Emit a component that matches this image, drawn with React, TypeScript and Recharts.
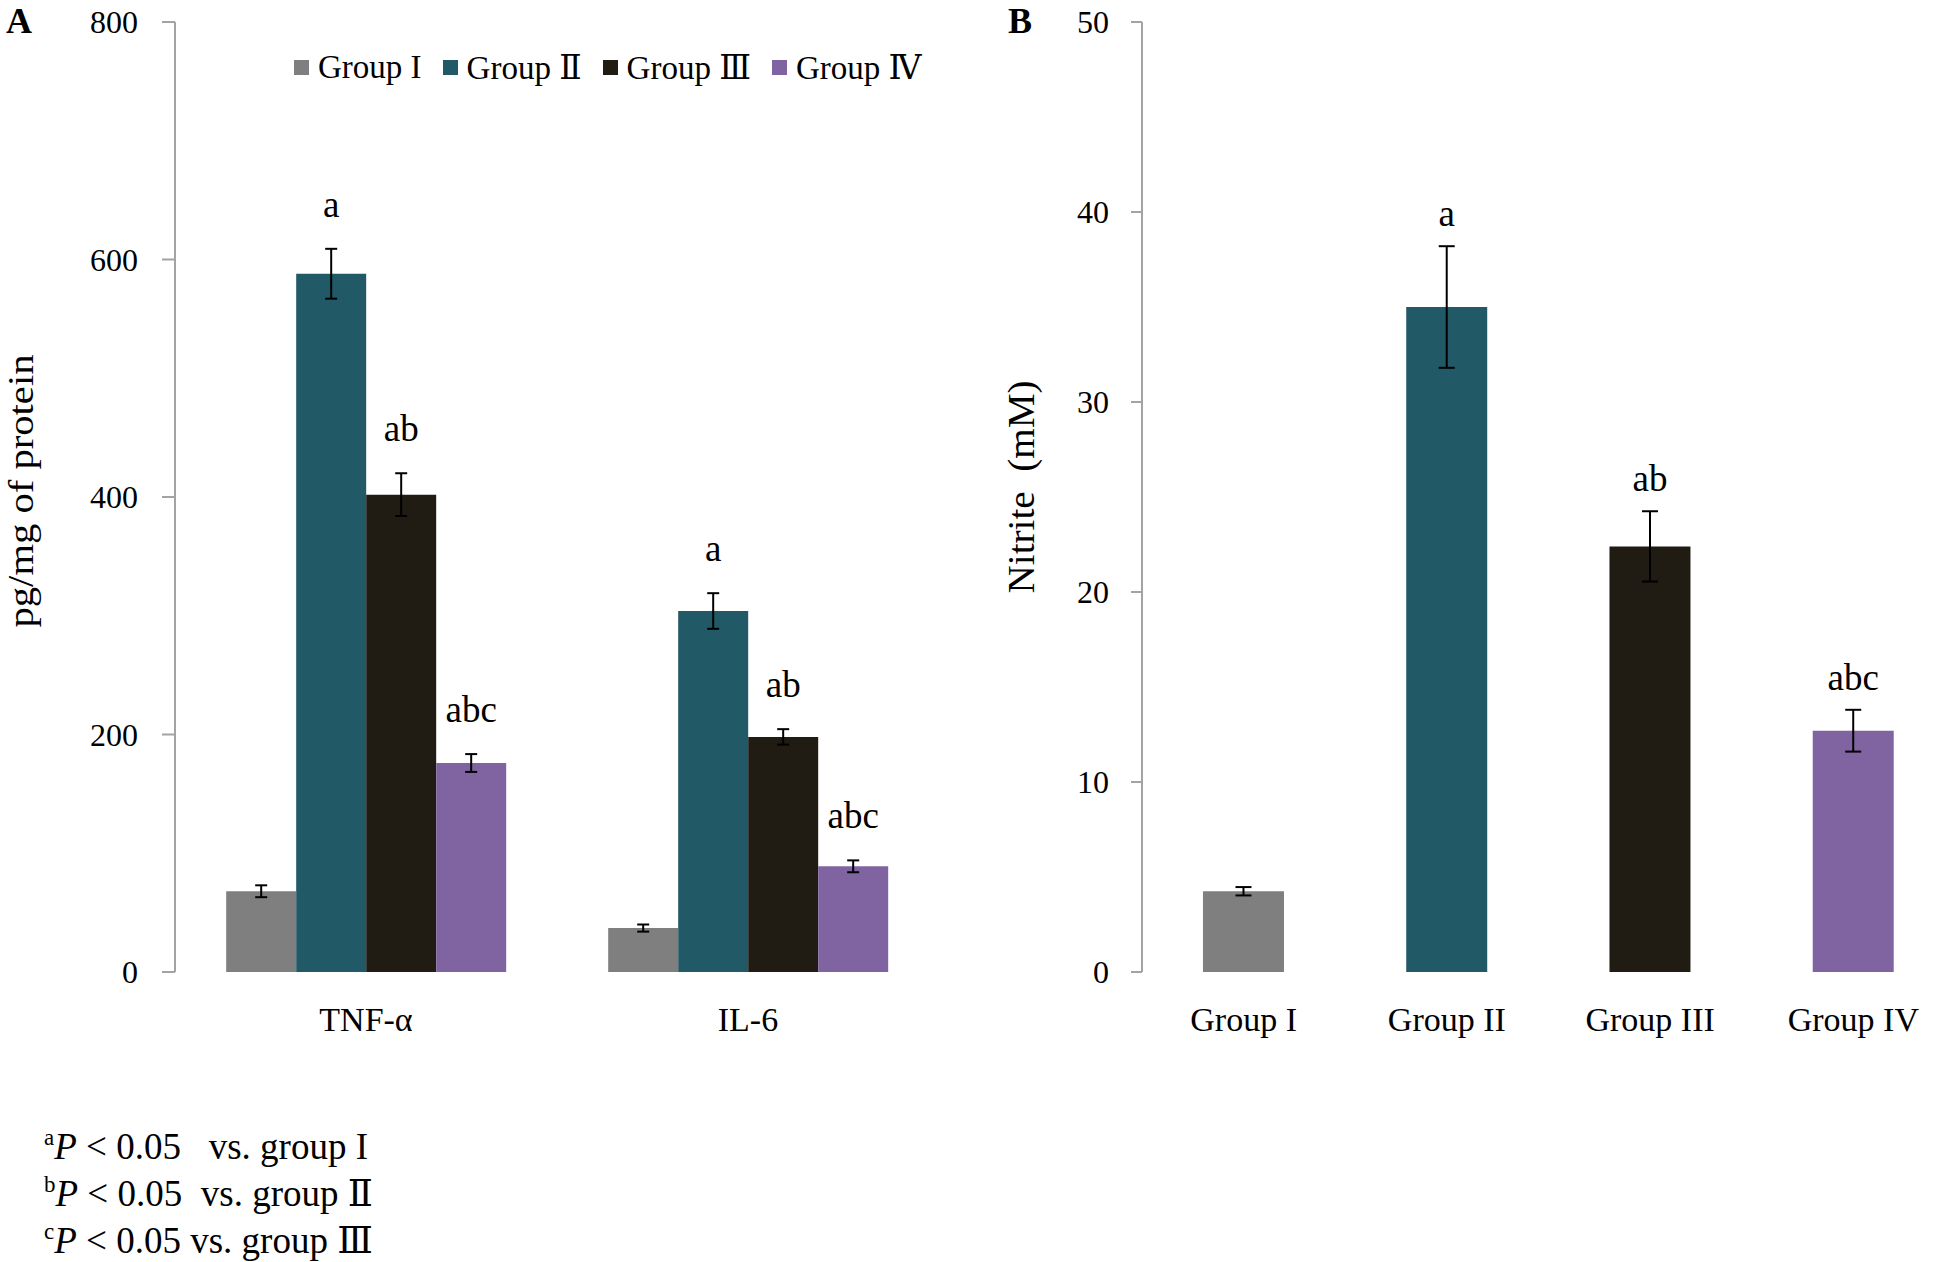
import React from 'react';
import { BarChart, Bar, XAxis, YAxis, ErrorBar, LabelList, Legend, Cell } from 'recharts';

const SERIF = '"Liberation Serif", "DejaVu Serif", serif';
const GRAY = '#a3a3a3';

// Panel A data
const cytokines = ['TNF-α', 'IL-6'];
const groupNames = ['Group I', 'Group Ⅱ', 'Group Ⅲ', 'Group Ⅳ'];
const groupColors = ['#7f7f7f', '#215967', '#201c14', '#8064a2'];
const group1 = [68, 37];
const group2 = [588, 304];
const group3 = [402, 198];
const group4 = [176, 89];
const err1 = [5, 3];
const err2 = [21, 15];
const err3 = [18, 6.5];
const err4 = [7.5, 5];
const sig1 = ['', ''];
const sig2 = ['a', 'a'];
const sig3 = ['ab', 'ab'];
const sig4 = ['abc', 'abc'];
const yTicksA = [0, 200, 400, 600, 800];

// Panel B data
const groupsB = ['Group I', 'Group II', 'Group III', 'Group IV'];
const nitrite = [4.25, 35.0, 22.4, 12.7];
const nitriteErr = [0.22, 3.2, 1.85, 1.1];
const nitriteSig = ['', 'a', 'ab', 'abc'];
const yTicksB = [0, 10, 20, 30, 40, 50];

const footnoteLetters = ['a', 'b', 'c'];
const footnoteTexts = [' < 0.05   vs. group I', ' < 0.05  vs. group Ⅱ', ' < 0.05 vs. group Ⅲ'];

const dataA = cytokines.map((c, i) => ({
  name: c,
  g1: group1[i], e1: err1[i],
  g2: group2[i], e2: err2[i],
  g3: group3[i], e3: err3[i],
  g4: group4[i], e4: err4[i],
}));

const dataB = groupsB.map((g, i) => ({ name: g, v: nitrite[i], e: nitriteErr[i] }));

const seriesA = [
  { key: 'g1', err: 'e1', vals: group1, errs: err1, sig: sig1 },
  { key: 'g2', err: 'e2', vals: group2, errs: err2, sig: sig2 },
  { key: 'g3', err: 'e3', vals: group3, errs: err3, sig: sig3 },
  { key: 'g4', err: 'e4', vals: group4, errs: err4, sig: sig4 },
];

const makeSig = (vals: number[], errs: number[], sigs: string[], gap: number, fontSize: number) => (props: any) => {
  const idx = props.index;
  const s = sigs[idx];
  if (!s) return null;
  const vb = props.viewBox || props;
  const x = Number(vb.x);
  const y = Number(vb.y);
  const w = Number(vb.width);
  const h = Number(vb.height);
  const pxPerUnit = h / vals[idx];
  const top = y - errs[idx] * pxPerUnit;
  return (
    <text x={x + w / 2} y={top - gap} textAnchor="middle" fontSize={fontSize} fontFamily={SERIF} fill="#000">
      {s}
    </text>
  );
};

const CatTick = (props: any) => {
  const { x, y, payload } = props;
  return (
    <text x={x} y={y + 59} textAnchor="middle" fontSize={34} fontFamily={SERIF} fill="#000">
      {payload.value}
    </text>
  );
};

const LegendContent = (props: any) => {
  const { payload } = props;
  return (
    <div style={{ display: 'flex', alignItems: 'center', fontFamily: SERIF, fontSize: 33, color: '#000', whiteSpace: 'nowrap' }}>
      {(payload || []).map((entry: any, i: number) => (
        <div key={i} style={{ display: 'flex', alignItems: 'center', marginRight: 21 }}>
          <div style={{ width: 15, height: 15, background: entry.color, marginRight: 9 }} />
          <span>{entry.value}</span>
        </div>
      ))}
    </div>
  );
};

const YLabel = (text: string, x: number, cy: number, fontSize: number, len: number) => (props: any) => {
  return (
    <text
      x={x}
      y={cy}
      transform={`rotate(-90 ${x} ${cy})`}
      textAnchor="middle"
      fontSize={fontSize}
      fontFamily={SERIF}
      fill="#000"
      textLength={len}
      lengthAdjust="spacingAndGlyphs"
    >
      {text}
    </text>
  );
};

const axisStroke = { stroke: GRAY, strokeWidth: 2 };
const tickFont = { fill: '#000', fontSize: 32, fontFamily: SERIF };

export default function App() {
  return (
    <div style={{ position: 'absolute', left: 0, top: 0, width: 1958, height: 1262, background: '#fff', fontFamily: SERIF, overflow: 'hidden' }}>
      <div style={{ position: 'absolute', left: 6, top: 0, fontSize: 36, lineHeight: 'normal', fontWeight: 'bold' }}>A</div>
      <div style={{ position: 'absolute', left: 1008, top: 0, fontSize: 36, lineHeight: 'normal', fontWeight: 'bold' }}>B</div>

      <div style={{ position: 'absolute', left: 0, top: 0 }}>
        <BarChart
          width={960}
          height={1080}
          data={dataA}
          margin={{ top: 22, right: 21, left: 0, bottom: 38 }}
          barCategoryGap="13.4%"
          barGap={0}
        >
          <XAxis
            xAxisId="t"
            type="number"
            domain={[0, cytokines.length]}
            ticks={[0, 1, 2]}
            allowDataOverflow
            height={0}
            tick={false}
            tickSize={13}
            tickLine={axisStroke}
            axisLine={axisStroke}
          />
          <XAxis
            xAxisId="c"
            dataKey="name"
            height={70}
            axisLine={false}
            tickLine={false}
            tickSize={0}
            tickMargin={0}
            interval={0}
            tick={<CatTick />}
          />
          <YAxis
            width={175}
            domain={[0, 800]}
            ticks={yTicksA}
            interval={0}
            tickSize={13}
            tickMargin={24}
            tick={tickFont}
            tickLine={axisStroke}
            axisLine={axisStroke}
            label={{ content: YLabel('pg/mg of protein', 33, 491, 36, 273) }}
          />
          <Legend
            layout="vertical"
            align="center"
            verticalAlign="middle"
            wrapperStyle={{ left: 294, top: 48, width: 700, height: 40 }}
            content={<LegendContent />}
          />
          {seriesA.map((s, i) => (
            <Bar
              key={s.key}
              xAxisId="c"
              dataKey={s.key}
              name={groupNames[i]}
              fill={groupColors[i]}
              isAnimationActive={false}
            >
              <ErrorBar dataKey={s.err} width={6} stroke="#000" strokeWidth={2} />
              <LabelList dataKey={s.key} content={makeSig(s.vals, s.errs, s.sig, 32, 37)} />
            </Bar>
          ))}
        </BarChart>
      </div>

      <div style={{ position: 'absolute', left: 980, top: 0 }}>
        <BarChart
          width={978}
          height={1080}
          data={dataB}
          margin={{ top: 22, right: 3, left: 0, bottom: 38 }}
          barCategoryGap="30%"
        >
          <XAxis
            xAxisId="t"
            type="number"
            domain={[0, groupsB.length]}
            ticks={[0, 1, 2, 3, 4]}
            allowDataOverflow
            height={0}
            tick={false}
            tickSize={13}
            tickLine={axisStroke}
            axisLine={axisStroke}
          />
          <XAxis
            xAxisId="c"
            dataKey="name"
            height={70}
            axisLine={false}
            tickLine={false}
            tickSize={0}
            tickMargin={0}
            interval={0}
            tick={<CatTick />}
          />
          <YAxis
            width={162}
            domain={[0, 50]}
            ticks={yTicksB}
            interval={0}
            tickSize={11}
            tickMargin={22}
            tick={tickFont}
            tickLine={axisStroke}
            axisLine={axisStroke}
            label={{ content: YLabel('Nitrite\u00a0 (mM)', 54, 487, 38, 213) }}
          />
          <Bar xAxisId="c" dataKey="v" isAnimationActive={false}>
            {dataB.map((d, i) => (
              <Cell key={d.name} fill={groupColors[i]} />
            ))}
            <ErrorBar dataKey="e" width={8} stroke="#000" strokeWidth={2} />
            <LabelList dataKey="v" content={makeSig(nitrite, nitriteErr, nitriteSig, 20, 37)} />
          </Bar>
        </BarChart>
      </div>

      {footnoteTexts.map((t, i) => (
        <div
          key={i}
          style={{ position: 'absolute', left: 44, top: 1128 + i * 47, fontSize: 37, lineHeight: '37px', whiteSpace: 'pre', color: '#000' }}
        >
          <span style={{ fontSize: 23, position: 'relative', top: -14 }}>{footnoteLetters[i]}</span>
          <i>P</i>
          {t}
        </div>
      ))}
    </div>
  );
}
